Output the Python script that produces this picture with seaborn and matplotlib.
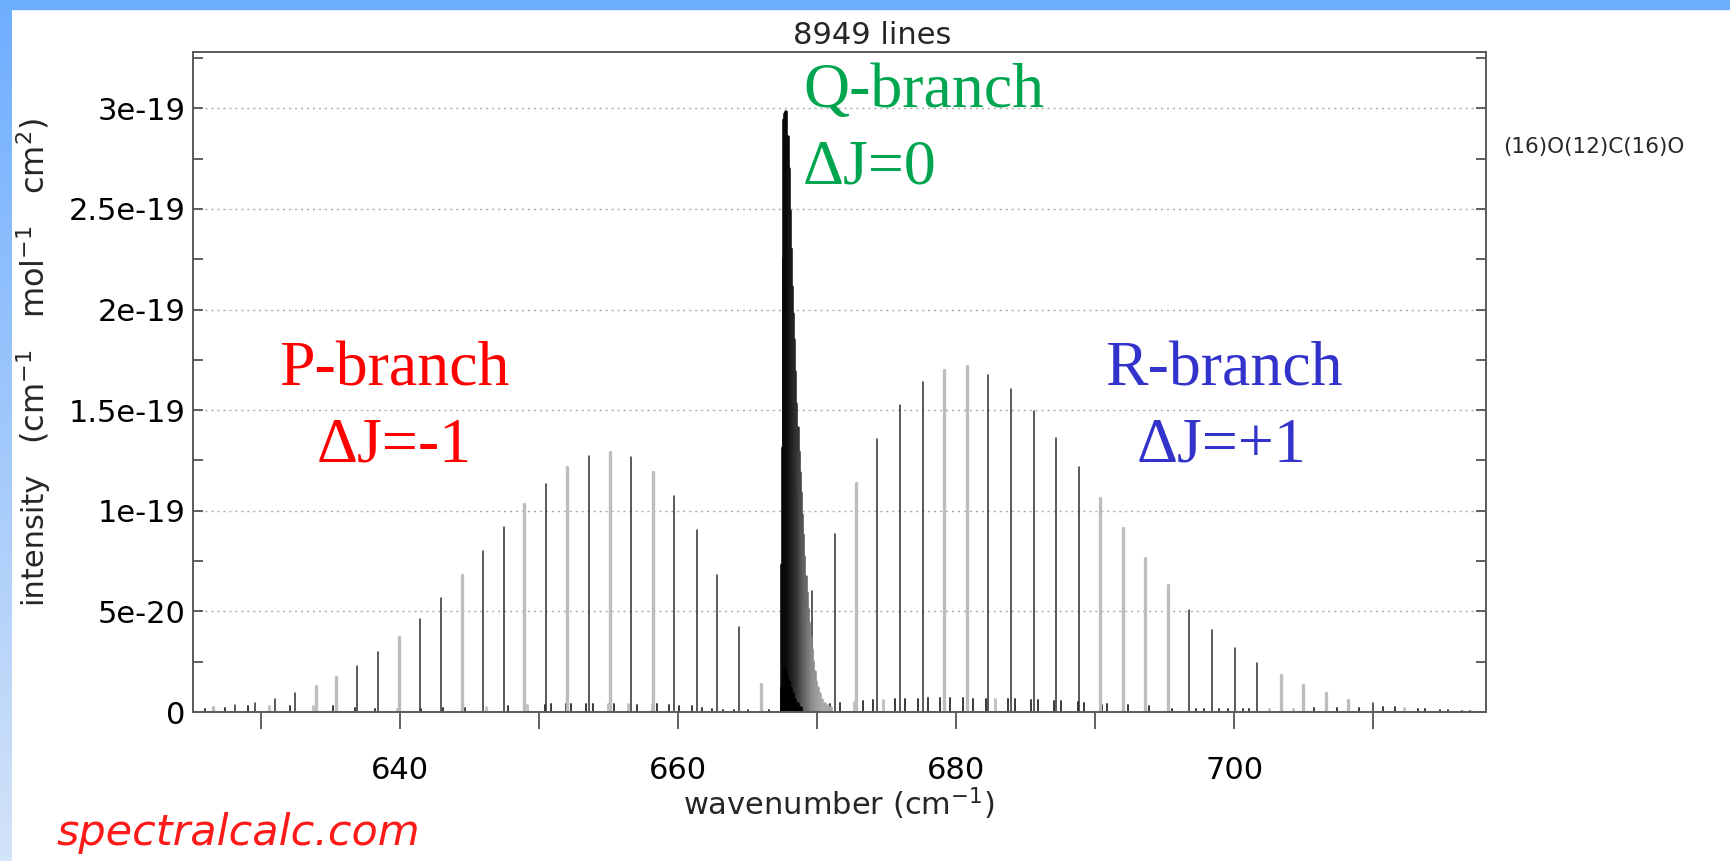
import numpy as np
import pandas as pd
import matplotlib
matplotlib.use("Agg")
import matplotlib.pyplot as plt
import seaborn as sns
from matplotlib.colors import LinearSegmentedColormap

# line positions (cm-1) and intensities (units of 1e-19 cm-1/(mol cm-2))
# P branch, lines that render sharp/dark
p_dark_wn = [628.11, 629.56, 631.00, 632.44, 636.90, 638.39, 641.46, 642.91, 645.98, 647.44,
             650.49, 653.57, 656.61, 659.69, 661.32, 662.79, 664.40]
p_dark_int = [0.033, 0.045, 0.067, 0.095, 0.228, 0.297, 0.463, 0.567, 0.798, 0.920,
              1.133, 1.270, 1.267, 1.072, 0.905, 0.680, 0.420]
# P branch, lines that render soft/pale
p_pale_wn = [626.55, 633.95, 635.41, 639.93, 644.42, 648.93, 652.00, 655.08, 658.15, 665.92]
p_pale_int = [0.025, 0.128, 0.175, 0.375, 0.683, 1.032, 1.217, 1.292, 1.195, 0.138]

# R branch
r_dark_wn = [669.64, 671.27, 674.33, 675.97, 677.58, 682.29, 683.93, 685.56, 687.18, 688.81,
             696.77, 698.40, 700.02, 701.65, 709.95]
r_dark_int = [0.600, 0.886, 1.358, 1.526, 1.639, 1.677, 1.603, 1.495, 1.361, 1.217,
              0.507, 0.406, 0.320, 0.245, 0.045]
r_pale_wn = [672.79, 679.12, 680.75, 690.35, 691.96, 693.60, 695.21, 703.35, 704.96, 706.57, 708.18]
r_pale_int = [1.137, 1.700, 1.720, 1.063, 0.913, 0.765, 0.632, 0.183, 0.133, 0.095, 0.062]

# Q branch envelope
q_wn = [667.48, 667.53, 667.58, 667.64, 667.70, 667.78, 667.86, 667.95, 668.03, 668.11,
        668.19, 668.27, 668.34, 668.42, 668.50, 668.58, 668.67, 668.74, 668.82, 668.90,
        668.98, 669.08, 669.17, 669.25, 669.34, 669.43, 669.53, 669.61, 669.70, 669.82,
        669.94, 670.06, 670.18, 670.36, 670.54, 670.75, 671.00]
q_int = [0.73, 1.31, 2.25, 2.94, 2.97, 2.98, 2.86, 2.70, 2.49, 2.30,
         2.11, 1.98, 1.85, 1.69, 1.53, 1.41, 1.29, 1.19, 1.09, 0.98,
         0.88, 0.77, 0.67, 0.59, 0.51, 0.44, 0.37, 0.31, 0.25, 0.20,
         0.15, 0.12, 0.09, 0.06, 0.04, 0.03, 0.02]
# hot-band Q branches at the foot of the main one
qh_wn = [667.50, 667.58, 667.66, 667.75, 667.85, 667.97, 668.10, 668.25, 668.42, 668.60, 668.80]
qh_int = [0.12, 0.21, 0.21, 0.19, 0.17, 0.15, 0.12, 0.09, 0.06, 0.04, 0.02]

# weak lines along the baseline
weak_wn = [625.93, 627.39, 629.03, 632.08, 635.15, 636.76, 638.22, 641.51, 643.07, 644.63,
           647.75, 650.40, 650.88, 651.96, 652.32, 653.40, 653.88, 655.37, 657.00, 658.49,
           659.35, 660.07, 660.96, 661.68, 662.40, 663.20, 664.00, 665.00, 666.50,
           670.89, 671.61, 673.30, 674.02, 675.58, 676.30, 677.22, 677.94, 678.83, 679.55,
           680.46, 681.19, 682.12, 683.71, 684.24, 685.37, 685.88, 687.01, 687.56, 688.76,
           689.17, 690.50, 690.81, 692.06, 692.37, 693.86, 695.55, 697.23, 697.83, 698.92,
           699.52, 700.60, 701.08, 705.75, 707.40, 709.00, 710.67, 711.56, 713.19, 713.72,
           714.80, 715.35, 716.40, 716.95]
weak_int = [0.017, 0.022, 0.028, 0.028, 0.028, 0.022, 0.017, 0.017, 0.022, 0.022,
            0.030, 0.033, 0.042, 0.042, 0.042, 0.042, 0.042, 0.042, 0.037, 0.038,
            0.033, 0.030, 0.030, 0.022, 0.017, 0.010, 0.010, 0.008, 0.008,
            0.041, 0.045, 0.055, 0.058, 0.066, 0.066, 0.066, 0.070, 0.070, 0.070,
            0.070, 0.066, 0.066, 0.066, 0.066, 0.061, 0.058, 0.055, 0.053, 0.050,
            0.045, 0.033, 0.041, 0.038, 0.036, 0.028, 0.017, 0.017, 0.013, 0.017,
            0.013, 0.017, 0.017, 0.020, 0.020, 0.020, 0.025, 0.025, 0.017, 0.017,
            0.010, 0.010, 0.007, 0.007]
weak_pale_wn = [630.54, 633.76, 639.76, 646.19, 649.15, 654.96, 656.40, 658.08,
                672.62, 674.74, 682.75, 702.52, 704.20, 712.20]
weak_pale_int = [0.028, 0.028, 0.017, 0.025, 0.033, 0.042, 0.042, 0.038,
                 0.050, 0.061, 0.066, 0.017, 0.017, 0.020]

y_ticks = [0, 0.5, 1.0, 1.5, 2.0, 2.5, 3.0]
y_tick_labels = ["0", "5e-20", "1e-19", "1.5e-19", "2e-19", "2.5e-19", "3e-19"]
x_ticks = [640, 660, 680, 700]
x_minor = [630, 650, 670, 690, 710]

SCALE = 1e-19
W, H = 1731, 861

sns.set_theme(style="ticks")
plt.rcParams["font.family"] = ["DejaVu Sans"]

fig = plt.figure(figsize=(W / 100, H / 100), dpi=100)
fig.patch.set_facecolor("white")
ax = fig.add_axes([193 / W, 1 - 712 / H, (1486 - 193) / W, (712 - 52) / H])


def sticks(wn, inten, **kw):
    # each line is a unit going from the baseline up to its intensity
    n = len(wn)
    df = pd.DataFrame({
        "wn": np.repeat(wn, 2),
        "intensity": np.column_stack([np.zeros(n), np.asarray(inten) * SCALE]).ravel(),
        "line": np.repeat(np.arange(n), 2),
    })
    if "hue" in kw:
        df["shade"] = df["wn"]
    sns.lineplot(data=df, x="wn", y="intensity", units="line", estimator=None,
                 legend=False, ax=ax, **kw)


sticks(weak_pale_wn, weak_pale_int, color="#c4c4c4", linewidth=2.2)
sticks(weak_wn, weak_int, color="#3a3a3a", linewidth=1.4)
sticks(p_pale_wn, p_pale_int, color="#bdbdbd", linewidth=2.4)
sticks(r_pale_wn, r_pale_int, color="#bdbdbd", linewidth=2.4)
sticks(p_dark_wn, p_dark_int, color="#2e2e2e", linewidth=1.1)
sticks(r_dark_wn, r_dark_int, color="#2e2e2e", linewidth=1.1)

q_cmap = LinearSegmentedColormap.from_list("q", ["#080808", "#2a2a2a", "#5e5e5e", "#8c8c8c", "#a8a8a8"])
sticks(q_wn, q_int, hue="shade", palette=q_cmap, hue_norm=(667.8, 670.3), linewidth=2.6)
sticks(qh_wn, qh_int, color="#000000", linewidth=2.6)

ax.set_xlabel("")
ax.set_ylabel("")
ax.set_xlim(625.1, 718.1)
ax.set_ylim(0, 3.28 * SCALE)

ax.set_xticks(x_ticks)
ax.set_xticks(x_minor, minor=True)
ax.set_yticks([v * SCALE for v in y_ticks], y_tick_labels)
ax.set_yticks([(v + 0.25) * SCALE for v in y_ticks], minor=True)

ax.tick_params(axis="x", which="both", direction="out", length=12, width=1.3,
               color="#555555", labelcolor="black", labelsize=22, pad=20,
               top=False, bottom=True)
ax.tick_params(axis="y", which="both", direction="in", length=7.5, width=1.3,
               color="#555555", labelcolor="black", labelsize=22, pad=5.4,
               left=True, right=True)

ax.set_axisbelow(True)
ax.grid(axis="y", which="major", color="#aaaaaa", linestyle=(0, (1.5, 2.8)), linewidth=1.0)
ax.grid(axis="x", visible=False)
for s in ax.spines.values():
    s.set_visible(True)
    s.set_color("#5a5a5a")
    s.set_linewidth(1.4)

# texts
fig.text(872 / W, 1 - 44 / H, "8949 lines", ha="center", va="baseline", fontsize=22)
fig.text(839 / W, 1 - 815 / H, r"wavenumber (cm$^{-1}$)", ha="center", va="baseline", fontsize=22)
fig.text(33 / W, 1 - 538 / H, "intensity", rotation=90, ha="center", va="center", fontsize=22)
fig.text(33 / W, 1 - 281 / H, r"(cm$^{-1}$   mol$^{-1}$   cm$^{2}$)",
         rotation=90, ha="center", va="center", fontsize=23)
fig.text(1503 / W, 1 - 147 / H, "(16)O(12)C(16)O", ha="left", va="center", fontsize=15.5)
fig.text(57 / W, 1 - 845 / H, "spectralcalc.com", ha="left", va="baseline",
         fontsize=31, style="italic", color="#ff1a1a")

serif = dict(family="Liberation Serif", fontsize=46, va="baseline")
fig.text(803 / W, 1 - 107 / H, "Q-branch", ha="left", color="#00a550", **serif)
fig.text(803 / W, 1 - 183 / H, "\u0394J=0", ha="left", color="#00a550", **serif)
fig.text(394 / W, 1 - 386 / H, "P-branch", ha="center", color="#ff0000", **serif)
fig.text(394 / W, 1 - 461 / H, "\u0394J=-1", ha="center", color="#ff0000", **serif)
fig.text(1224 / W, 1 - 386 / H, "R-branch", ha="center", color="#3333cc", **serif)
fig.text(1222 / W, 1 - 461 / H, "\u0394J=+1", ha="center", color="#3333cc", **serif)

# blue frame of the page
edge = fig.add_axes([0, 0, 12 / W, 1])
edge_cmap = LinearSegmentedColormap.from_list("edge", ["#6eaeff", "#d3e3f8"])
edge.imshow(np.linspace(0, 1, 256)[:, None], aspect="auto", cmap=edge_cmap)
edge.axis("off")
fig.add_artist(plt.Rectangle((0, 1 - 9 / H), 1, 9 / H, transform=fig.transFigure,
                             color="#6eaeff", zorder=10))

fig.savefig("out.png", dpi=100)
